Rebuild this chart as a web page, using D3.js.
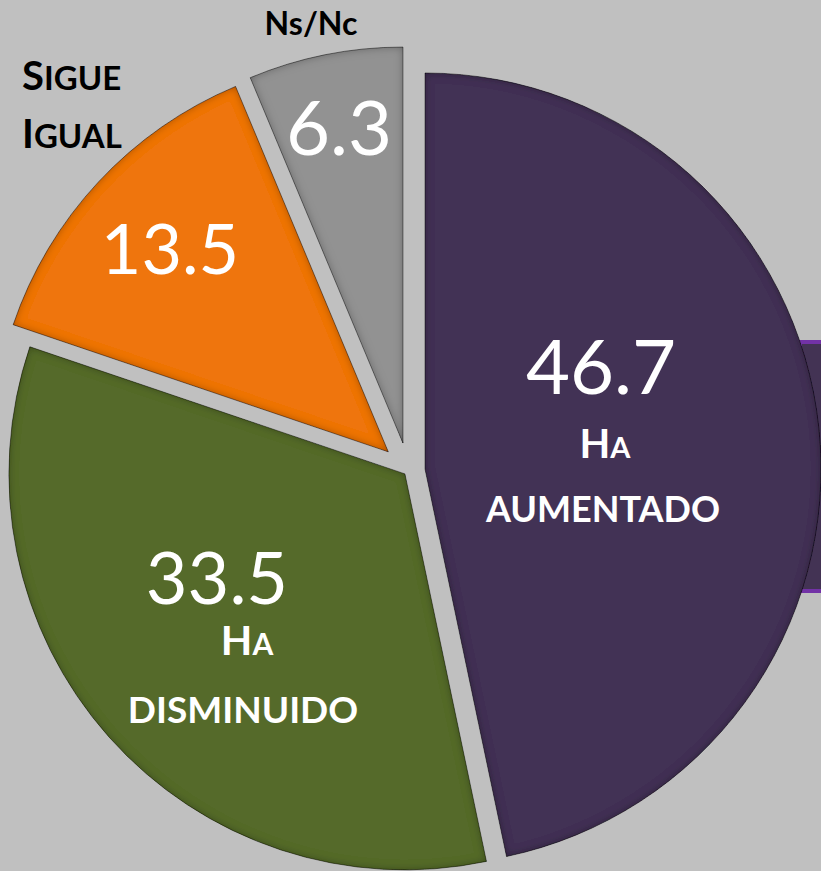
<!DOCTYPE html>
<html>
<head>
<meta charset="utf-8">
<script src="https://cdn.jsdelivr.net/npm/d3@7"></script>
<style>
  body { margin: 0; background: #c0c0c0; }
  svg { display: block; }
</style>
</head>
<body>
<script>
// data
var categories = ["Ha aumentado", "Ha disminuido", "Sigue igual", "Ns/Nc"];
var values = [46.7, 33.5, 13.5, 6.3];
var colors = ["#433354", "#546a2b", "#ef750d", "#929292"];

// layout
var width = 821, height = 871;
var cx = 408.5, cy = 470.7, radius = 396;
var explode = [16.6, 4.8, 27.7, 28.2]; // how far each slice is pulled out

var svg = d3.select("body").append("svg")
  .attr("width", width)
  .attr("height", height)
  .style("background", "#c0c0c0");

// inner shadow so the slices look bevelled
var defs = svg.append("defs");
var f = defs.append("filter").attr("id", "bevel")
  .attr("x", "-5%").attr("y", "-5%").attr("width", "110%").attr("height", "110%");
f.append("feGaussianBlur").attr("in", "SourceAlpha").attr("stdDeviation", 4).attr("result", "blur");
f.append("feComposite").attr("in", "SourceAlpha").attr("in2", "blur")
  .attr("operator", "arithmetic").attr("k2", 1).attr("k3", -1).attr("result", "rim");
f.append("feFlood").attr("flood-color", "#000").attr("flood-opacity", 0.6).attr("result", "dark");
f.append("feComposite").attr("in", "dark").attr("in2", "rim").attr("operator", "in").attr("result", "shadow");
var merge = f.append("feMerge");
merge.append("feMergeNode").attr("in", "SourceGraphic");
merge.append("feMergeNode").attr("in", "shadow");

// purple box peeking out behind the pie on the right
svg.append("rect")
  .attr("x", 800).attr("y", 342)
  .attr("width", 40).attr("height", 249)
  .attr("fill", "#433354")
  .attr("stroke", "#7232a6")
  .attr("stroke-width", 4);

var pie = d3.pie().sort(null).value(function(d) { return d; });
var arcs = pie(values);
var arc = d3.arc().innerRadius(0).outerRadius(radius);

var slices = svg.append("g").attr("transform", "translate(" + cx + "," + cy + ")");

slices.selectAll("path")
  .data(arcs)
  .enter()
  .append("path")
  .attr("d", arc)
  .attr("transform", function(d, i) {
    var a = (d.startAngle + d.endAngle) / 2;
    return "translate(" + (Math.sin(a) * explode[i]) + "," + (-Math.cos(a) * explode[i]) + ")";
  })
  .attr("fill", function(d, i) { return colors[i]; })
  .attr("stroke", "rgba(0,0,0,0.45)")
  .attr("stroke-width", 1)
  .attr("filter", "url(#bevel)");

// value labels
var valuePos = [[601, 394, 76], [217, 604, 72], [170, 274, 70], [339, 155, 76]];
svg.selectAll(".val")
  .data(values)
  .enter()
  .append("text")
  .attr("class", "val")
  .attr("x", function(d, i) { return valuePos[i][0]; })
  .attr("y", function(d, i) { return valuePos[i][1]; })
  .attr("text-anchor", "middle")
  .attr("font-family", "Lato, 'Open Sans', sans-serif")
  .attr("font-size", function(d, i) { return valuePos[i][2]; })
  .attr("fill", "#fff")
  .text(function(d) { return d.toFixed(1); });

// small caps helper: first letter big, the rest smaller
function smallCaps(sel, word, big, small) {
  sel.append("tspan").attr("font-size", big).text(word.charAt(0).toUpperCase());
  sel.append("tspan").attr("font-size", small).text(word.slice(1).toUpperCase());
}

function label(x, y, color) {
  return svg.append("text")
    .attr("x", x).attr("y", y)
    .attr("font-family", "Lato, 'Open Sans', sans-serif")
    .attr("font-weight", "bold")
    .attr("fill", color);
}

// Ha aumentado
var w1 = categories[0].split(" ");
smallCaps(label(605, 458, "#fff").attr("text-anchor", "middle"), w1[0], 40, 29);
label(603, 522, "#fff").attr("text-anchor", "middle").attr("font-size", 36).text(w1[1].toUpperCase());

// Ha disminuido
var w2 = categories[1].split(" ");
smallCaps(label(247, 655, "#fff").attr("text-anchor", "middle"), w2[0], 41, 30);
label(243, 723, "#fff").attr("text-anchor", "middle").attr("font-size", 37).text(w2[1].toUpperCase());

// Sigue igual
var w3 = categories[2].split(" ");
smallCaps(label(22, 90, "#000"), w3[0], 40, 33);
smallCaps(label(22, 148, "#000"), w3[1], 40, 33);

// Ns/Nc
label(311, 35, "#000").attr("text-anchor", "middle").attr("font-size", 32).text(categories[3]);
</script>
</body>
</html>
